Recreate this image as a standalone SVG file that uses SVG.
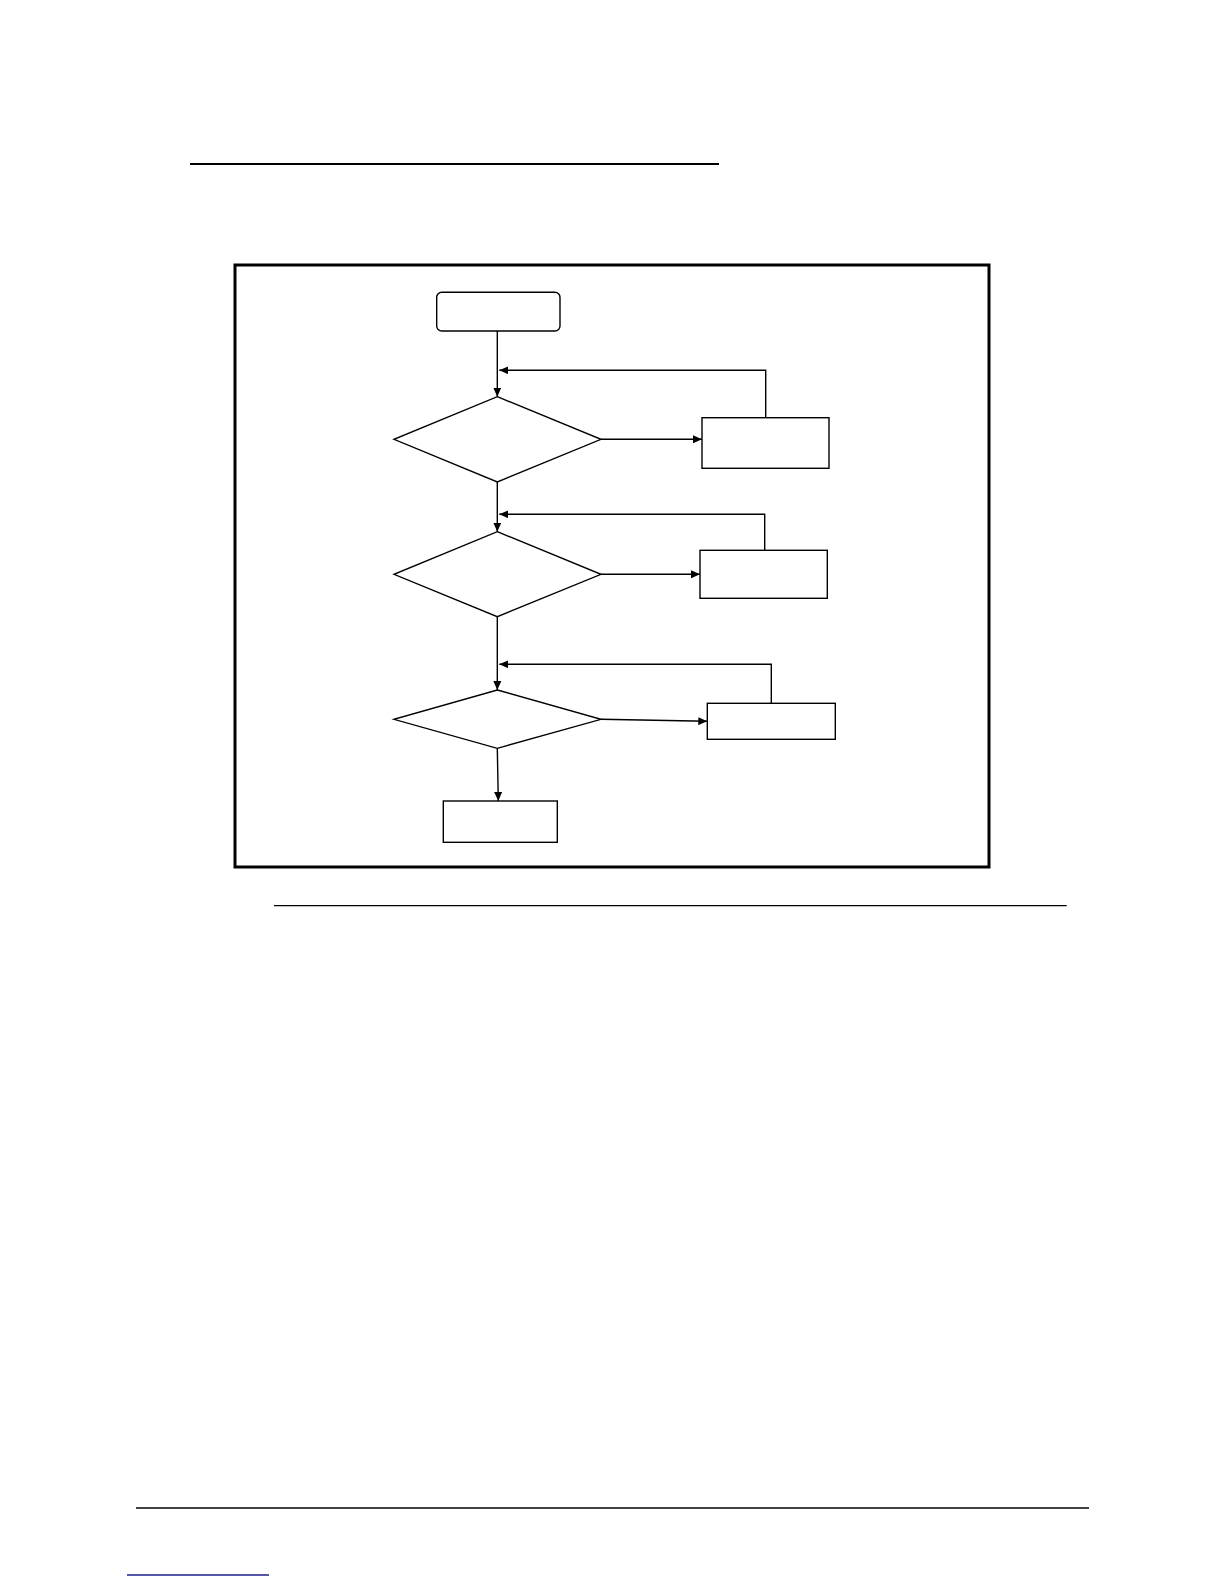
<svg xmlns="http://www.w3.org/2000/svg" width="1224" height="1584" viewBox="0 0 1224 1584">
<style>
.node{fill:#fff;stroke:#000;stroke-width:1.4}
.conn{fill:none;stroke:#000;stroke-width:1.4}
.rule{stroke:#000;fill:none}
</style>
<defs>
<marker id="ah" markerUnits="userSpaceOnUse" markerWidth="10" markerHeight="8" refX="9" refY="4" orient="auto">
<path d="M0,0 L9,4 L0,8 Z" fill="#000"/>
</marker>
</defs>
<rect width="1224" height="1584" fill="#fff"/>
<g id="page-rules">
<line class="rule" x1="190" y1="164" x2="719" y2="164" stroke-width="2.2"/>
<rect class="rule" x="235" y="265" width="754" height="602" stroke-width="3"/>
<line class="rule" x1="274" y1="905.7" x2="1066.7" y2="905.7" stroke-width="1.3"/>
<line class="rule" x1="136" y1="1508" x2="1089" y2="1508" stroke-width="1.5"/>
<line x1="127" y1="1575" x2="269" y2="1575" stroke="#1c1c8c" stroke-width="1.4"/>
</g>
<g id="connectors">
<line class="conn" x1="497.3" y1="331" x2="497.3" y2="396.7" marker-end="url(#ah)"/>
<polyline class="conn" points="765.7,417.7 765.7,370.3 499.3,370.3" marker-end="url(#ah)"/>
<line class="conn" x1="601" y1="439.3" x2="702" y2="439.3" stroke-width="2.6" marker-end="url(#ah)"/>
<line class="conn" x1="497.3" y1="482" x2="497.3" y2="531.7" marker-end="url(#ah)"/>
<polyline class="conn" points="764.7,550.3 764.7,514.3 499.3,514.3" marker-end="url(#ah)"/>
<line class="conn" x1="601" y1="574.3" x2="700" y2="574.3" marker-end="url(#ah)"/>
<line class="conn" x1="497.3" y1="616.7" x2="497.3" y2="690" marker-end="url(#ah)"/>
<polyline class="conn" points="771.3,703.3 771.3,664.3 499.3,664.3" marker-end="url(#ah)"/>
<line class="conn" x1="601" y1="719.3" x2="707.3" y2="721.3" marker-end="url(#ah)"/>
<line class="conn" x1="497.3" y1="748.3" x2="498.3" y2="801" marker-end="url(#ah)"/>
</g>
<g id="start"><rect class="node" x="436.7" y="292.3" width="123.3" height="38.7" rx="5"/></g>
<g id="decision1"><polygon class="node" points="497.3,396.7 601,439.3 497.3,482 394,439.3"/></g>
<g id="box1"><rect class="node" x="702" y="417.7" width="127" height="50.6"/></g>
<g id="decision2"><polygon class="node" points="497.3,531.7 601,574.3 497.3,616.7 394,574.3"/></g>
<g id="box2"><rect class="node" x="700" y="550.3" width="127.3" height="48"/></g>
<g id="decision3"><polygon class="node" points="497.3,690 601,719.3 497.3,748.3 394,719.3"/></g>
<g id="box3"><rect class="node" x="707.3" y="703.3" width="128" height="36"/></g>
<g id="end"><rect class="node" x="443.3" y="801" width="114" height="41.3"/></g>
</svg>
